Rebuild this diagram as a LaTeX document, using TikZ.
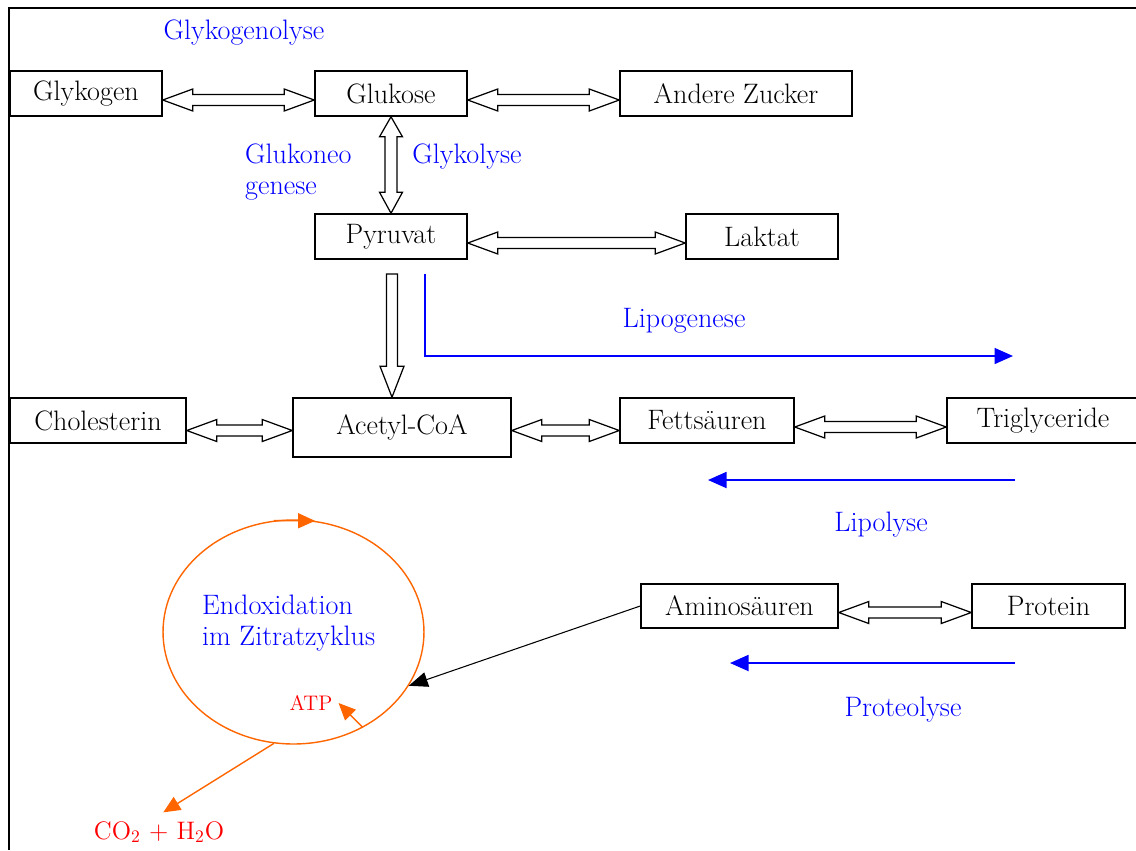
\documentclass[tikz,border=0pt]{standalone}
\usepackage{amsmath}
\usepackage{tikz}
\usetikzlibrary{arrows.meta}
\usetikzlibrary{calc}
\usetikzlibrary{shapes.geometric}
\usepackage{xcolor}
\definecolor{zykorange}{RGB}{255,102,0}

\tikzset{
  hfat/.style={draw, line width=0.7pt, to path={let \p1=(\tikztostart), \p2=(\tikztotarget), \n1={(\y1+\y2)/2-0.13cm} in
    (\x1,\n1) -- (\x1+0.6cm,\n1+0.22cm) -- (\x1+0.6cm,\n1+0.11cm) -- (\x2-0.6cm,\n1+0.11cm) -- (\x2-0.6cm,\n1+0.22cm) -- (\x2,\n1)
    -- (\x2-0.6cm,\n1-0.22cm) -- (\x2-0.6cm,\n1-0.11cm) -- (\x1+0.6cm,\n1-0.11cm) -- (\x1+0.6cm,\n1-0.22cm) -- cycle}},
  vfat/.style={draw, line width=0.7pt, to path={let \p1=(\tikztostart), \p2=(\tikztotarget) in
    (\x1,\y1) -- (\x1+0.23cm,\y1-0.4cm) -- (\x1+0.12cm,\y1-0.4cm) -- (\x1+0.12cm,\y2+0.42cm) -- (\x1+0.23cm,\y2+0.42cm) -- (\x1,\y2)
    -- (\x1-0.23cm,\y2+0.42cm) -- (\x1-0.12cm,\y2+0.42cm) -- (\x1-0.12cm,\y1-0.4cm) -- (\x1-0.23cm,\y1-0.4cm) -- cycle}},
  sfat/.style={draw, line width=0.7pt, to path={let \p1=(\tikztostart), \p2=(\tikztotarget) in
    (\x1-0.11cm,\y1) -- (\x1+0.11cm,\y1) -- (\x1+0.11cm,\y2+0.62cm) -- (\x1+0.24cm,\y2+0.62cm) -- (\x1,\y2)
    -- (\x1-0.24cm,\y2+0.62cm) -- (\x1-0.11cm,\y2+0.62cm) -- cycle}}
}

\begin{document}
\begin{tikzpicture}[x=0.02cm, y=-0.02cm,
  stoff/.style={draw, line width=0.9pt, minimum height=0.9cm, inner sep=2pt, font=\fontsize{16}{18}\selectfont},
  prozess/.style={blue, font=\fontsize{16}{18}\selectfont},
  blauarr/.style={blue, line width=1pt, -{Triangle[length=0.37cm,width=0.32cm]}},
  zykarr/.style={zykorange, line width=0.8pt, -{Triangle[length=0.34cm,width=0.3cm]}}]
\useasboundingbox (0,0) rectangle (1136,850);
\draw [line width=1.6pt] (1136,8) -- (9,8) -- (9,850);

\node[stoff, minimum width=3.04cm] (glykogen) at (86,93.5) {Glykogen};
\node[stoff, minimum width=3.04cm] (glukose) at (391,93.5) {Glukose};
\node[stoff, minimum width=4.64cm] (zucker) at (736,93.5) {Andere Zucker};
\node[stoff, minimum width=3.04cm] (pyruvat) at (391,236.5) {Pyruvat};
\node[stoff, minimum width=3.04cm] (laktat) at (762,236.5) {Laktat};
\node[stoff, minimum width=3.52cm] (cholesterin) at (98,420.5) {Cholesterin};
\node[stoff, minimum width=4.36cm, minimum height=1.18cm] (acetyl) at (402,427.5) {Acetyl-CoA};
\node[stoff, minimum width=3.48cm] (fett) at (707,420.5) {Fetts\"auren};
\node[stoff, minimum width=3.84cm] (trigly) at (1043,420.5) {Triglyceride};
\node[stoff, minimum width=3.94cm, minimum height=0.88cm] (amino) at (739.5,606) {Aminos\"auren};
\node[stoff, minimum width=3.06cm, minimum height=0.88cm] (protein) at (1048.5,606) {Protein};

\node[prozess] (glykogenolyse) at (244,33) {Glykogenolyse};
\node[prozess, align=left, anchor=west] (glukoneo) at (239,172) {Glukoneo\\genese};
\node[prozess] (glykolyse) at (467,157) {Glykolyse};
\node[prozess] (lipogenese) at (684,321) {Lipogenese};
\node[prozess] (lipolyse) at (881,525) {Lipolyse};
\node[prozess] (proteolyse) at (903,710) {Proteolyse};

\draw[hfat] (glykogen.east) to (glukose.west);
\draw[hfat] (glukose.east) to (zucker.west);
\draw[hfat] (pyruvat.east) to (laktat.west);
\draw[hfat] (cholesterin.east) to (acetyl.west);
\draw[hfat] (acetyl.east) to (fett.west);
\draw[hfat] (fett.east) to (trigly.west);
\draw[hfat] (amino.east) to (protein.west);
\draw[vfat] (glukose.south) to (pyruvat.north);
\coordinate (acstart) at (392,274);
\draw[sfat] (acstart) to (acetyl.north);

\coordinate (lipo0) at (425,274);
\coordinate (lipo1) at (1013,356);
\draw[blauarr] (lipo0) |- (lipo1);
\coordinate (lipol0) at (1015,480);
\coordinate (lipol1) at (708,480);
\draw[blauarr] (lipol0) -- (lipol1);
\coordinate (prot0) at (1015,663);
\coordinate (prot1) at (730,663);
\draw[blauarr] (prot0) -- (prot1);

\node[draw=zykorange, line width=0.8pt, ellipse, minimum width=5.22cm, minimum height=4.48cm, inner sep=0pt] (zyklus) at (293.5,632) {};
\node[prozess, align=left, anchor=west] (endox) at (196,623) {Endoxidation\\im Zitratzyklus};
\node[red, font=\large] (atp) at (311,703) {ATP};
\node[red, font=\Large] (co2) at (159,832) {CO$_2$ + H$_2$O};
\draw[zykarr] (zyklus.100) -- (zyklus.79);
\draw[zykarr] (zyklus.-54) -- (atp.east);
\draw[zykarr, shorten >=1mm] (zyklus.-100) -- (co2.north);
\draw[line width=0.6pt, -{Triangle[length=0.38cm,width=0.3cm]}] (amino.west) -- (zyklus.-25);
\end{tikzpicture}
\end{document}
